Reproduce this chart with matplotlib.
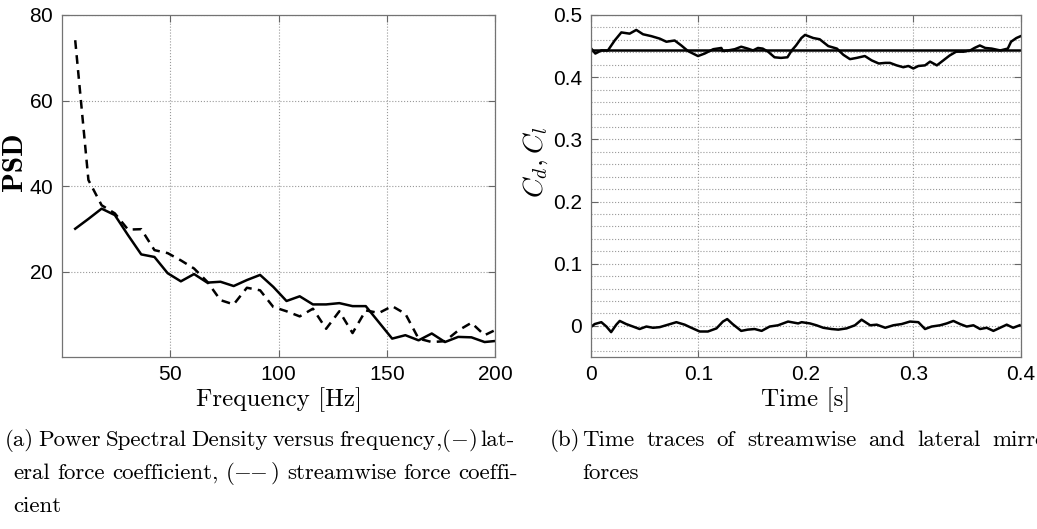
import numpy as np
import matplotlib.pyplot as plt
from matplotlib.ticker import MultipleLocator

plt.rcParams['font.family'] = ['Liberation Sans', 'DejaVu Sans']
plt.rcParams['mathtext.fontset'] = 'cm'
plt.rcParams['axes.formatter.use_mathtext'] = True

# (a) PSD versus frequency
freq = [6.1, 12.2, 18.3, 24.4, 30.5, 36.6, 42.7, 48.8, 54.9, 61.0, 67.1,
        73.2, 79.3, 85.4, 91.5, 97.6, 103.7, 109.8, 115.9, 122.0, 128.1,
        134.2, 140.3, 146.4, 152.5, 158.6, 164.7, 170.8, 176.9, 183.0,
        189.1, 195.2, 201.3]
psd_lateral = [30.0, 32.3, 34.7, 33.2, 28.5, 24.0, 23.4, 19.6, 17.7, 19.4,
               17.4, 17.6, 16.6, 18.0, 19.2, 16.4, 13.1, 14.2, 12.3, 12.3,
               12.6, 11.9, 11.9, 8.1, 4.3, 5.1, 3.9, 5.5, 3.5, 4.7, 4.6,
               3.5, 3.8]
psd_stream = [74.1, 41.4, 35.5, 33.6, 29.8, 29.9, 25.0, 24.3, 22.6, 20.7,
              17.6, 13.3, 12.3, 16.2, 15.6, 11.7, 10.7, 9.5, 11.3, 6.6,
              10.7, 5.6, 10.9, 10.3, 11.9, 10.1, 4.3, 3.5, 3.7, 6.2, 8.0,
              5.1, 6.6]

# (b) time traces
t_cd = [0.0, 0.0043, 0.0099, 0.016, 0.0223, 0.0285, 0.0362, 0.0424, 0.0487,
        0.0564, 0.0642, 0.0704, 0.0781, 0.0843, 0.0905, 0.0998, 0.106, 0.114,
        0.1215, 0.123, 0.1277, 0.134, 0.140, 0.146, 0.151, 0.1556, 0.160,
        0.165, 0.171, 0.177, 0.183, 0.187, 0.191, 0.196, 0.1994, 0.207,
        0.213, 0.221, 0.229, 0.235, 0.2412, 0.2474, 0.255, 0.2614, 0.268,
        0.274, 0.2784, 0.2846, 0.2908, 0.2955, 0.3001, 0.3048, 0.311,
        0.3157, 0.322, 0.328, 0.334, 0.340, 0.347, 0.353, 0.357, 0.362,
        0.367, 0.373, 0.381, 0.388, 0.391, 0.396, 0.400]
cd = [0.447, 0.438, 0.443, 0.443, 0.459, 0.472, 0.470, 0.476, 0.469, 0.466,
      0.462, 0.457, 0.459, 0.451, 0.442, 0.434, 0.438, 0.445, 0.447, 0.442,
      0.443, 0.445, 0.449, 0.446, 0.443, 0.447, 0.446, 0.441, 0.432, 0.431,
      0.432, 0.443, 0.451, 0.463, 0.468, 0.463, 0.461, 0.450, 0.446, 0.436,
      0.429, 0.431, 0.434, 0.427, 0.422, 0.423, 0.423, 0.419, 0.416, 0.418,
      0.414, 0.418, 0.419, 0.425, 0.419, 0.427, 0.435, 0.441, 0.441, 0.443,
      0.447, 0.451, 0.447, 0.446, 0.443, 0.446, 0.457, 0.463, 0.466]
cd_mean = 0.4445

t_cl = [0.0008, 0.0037, 0.0099, 0.0146, 0.019, 0.0238, 0.027, 0.033, 0.0393,
        0.0455, 0.0518, 0.058, 0.0642, 0.072, 0.0797, 0.0874, 0.0936, 0.1014,
        0.109, 0.117, 0.123, 0.127, 0.132, 0.140, 0.146, 0.1525, 0.159,
        0.1665, 0.1743, 0.1836, 0.193, 0.1962, 0.204, 0.210, 0.2164, 0.224,
        0.2303, 0.238, 0.2458, 0.252, 0.260, 0.2661, 0.274, 0.2815, 0.2893,
        0.297, 0.3048, 0.311, 0.3172, 0.325, 0.3312, 0.3374, 0.3436, 0.3498,
        0.356, 0.3622, 0.3684, 0.3746, 0.3808, 0.387, 0.393, 0.399]
cl = [-0.001, 0.003, 0.006, -0.001, -0.010, 0.002, 0.008, 0.003, -0.001,
      -0.005, -0.001, -0.003, -0.002, 0.002, 0.006, 0.002, -0.003, -0.009,
      -0.009, -0.004, 0.007, 0.011, 0.003, -0.008, -0.006, -0.005, -0.008,
      -0.001, 0.001, 0.007, 0.004, 0.006, 0.004, 0.001, -0.003, -0.005,
      -0.006, -0.004, 0.001, 0.010, 0.001, 0.002, -0.003, 0.001, 0.003,
      0.007, 0.006, -0.005, -0.001, 0.001, 0.004, 0.008, 0.003, -0.001,
      0.001, -0.005, -0.003, -0.008, -0.003, 0.002, -0.003, 0.001]

W, H = 1037, 529
fig = plt.figure(figsize=(W / 100, H / 100), dpi=100)
ax1 = fig.add_axes([62 / W, 1 - 357 / H, 433 / W, 342 / H])
ax2 = fig.add_axes([590.7 / W, 1 - 357 / H, 430 / W, 342 / H])

tick_fs = 15
grid_kw = dict(color='0.6', linestyle=':', linewidth=0.8)

# left panel
ax1.plot(freq, psd_lateral, color='black', lw=1.8)
ax1.plot(freq, psd_stream, color='black', lw=1.8, ls=(0, (3.5, 2.5)))
ax1.set_xlim(0, 200)
ax1.set_ylim(0, 80)
ax1.set_xticks([50, 100, 150, 200])
ax1.set_yticks([20, 40, 60, 80])
ax1.grid(True, **grid_kw)
ax1.set_xlabel('Frequency [Hz]', family='cmr10', fontsize=18)
ax1.set_ylabel('PSD', family='cmb10', fontsize=21)
ax1.xaxis.set_label_coords(0.5, -0.088)
ax1.yaxis.set_label_coords(-0.078, 0.57)

# right panel
ax2.plot(t_cd, cd, color='black', lw=1.8)
ax2.axhline(cd_mean, color='black', lw=1.8)
ax2.plot(t_cl, cl, color='black', lw=1.8)
ax2.set_xlim(0, 0.4)
ax2.set_ylim(-0.05, 0.5)
ax2.set_xticks([0, 0.1, 0.2, 0.3, 0.4])
ax2.set_xticklabels(['0', '0.1', '0.2', '0.3', '0.4'])
ax2.set_yticks([0, 0.1, 0.2, 0.3, 0.4, 0.5])
ax2.set_yticklabels(['0', '0.1', '0.2', '0.3', '0.4', '0.5'])
ax2.yaxis.set_minor_locator(MultipleLocator(0.02))
ax2.grid(True, which='major', **grid_kw)
ax2.grid(True, which='minor', axis='y', **grid_kw)
ax2.set_xlabel('Time [s]', family='cmr10', fontsize=18)
ax2.set_ylabel(r'$C_d, C_l$', fontsize=20)
ax2.xaxis.set_label_coords(0.5, -0.088)
ax2.yaxis.set_label_coords(-0.095, 0.57)

for ax in (ax1, ax2):
    ax.tick_params(direction='in', top=True, right=True, length=5,
                   labelsize=tick_fs, width=0.8, color='0.4', pad=6)
    ax.tick_params(which='minor', length=0)
    for s in ax.spines.values():
        s.set_color('0.45')
        s.set_linewidth(0.9)


# captions, justified word by word like the typeset source
def justify(line, x0, x1, y, size):
    words = line.split()
    objs = [fig.text(0, y, w, fontsize=size, family='cmr10',
                     va='baseline', transform=None) for w in words]
    r = fig.canvas.get_renderer()
    widths = [o.get_window_extent(r).width for o in objs]
    gap = (x1 - x0 - sum(widths)) / max(len(words) - 1, 1)
    x = x0
    for o, w in zip(objs, widths):
        o.set_x(x)
        x += w + gap


def plain(line, x0, y, size):
    fig.text(x0, y, line, fontsize=size, family='cmr10', va='baseline',
             transform=None)


cap_fs = 16.5
b1, b2, b3 = H - 446, H - 479, H - 512
justify(r'(a) Power Spectral Density versus frequency,$(-)$ lat-', 5, 515, b1, cap_fs)
justify(r'eral force coefficient, $(-\!\!-)$ streamwise force coeffi-', 13, 518, b2, cap_fs)
plain('cient', 13, b3, cap_fs)
plain('(b)', 550, b1, cap_fs)
justify('Time traces of streamwise and lateral mirror', 582, 1056, b1, cap_fs)
plain('forces', 582, b2, cap_fs)

fig.savefig('out.png', dpi=100)
